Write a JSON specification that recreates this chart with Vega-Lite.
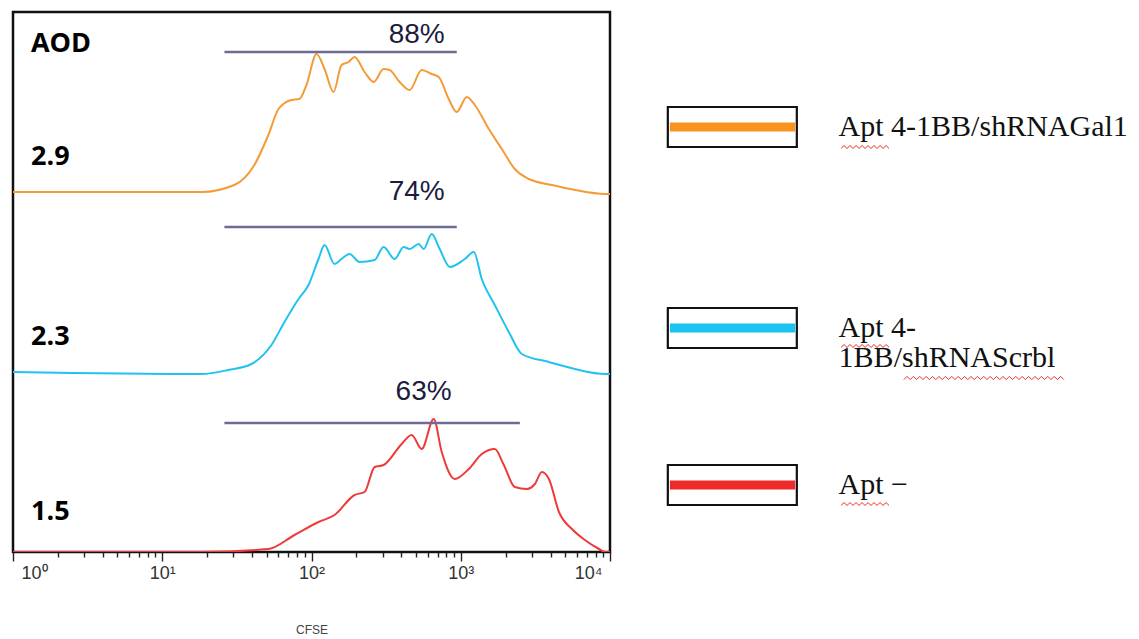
{
  "$schema": "https://vega.github.io/schema/vega-lite/v6.json",
  "padding": {"left": 11, "top": 10, "right": 0, "bottom": 0},
  "background": "white",
  "spacing": 32,
  "datasets": {
    "curves": [
      {"s": "Gal1", "x": 1, "y": 360}, {"s": "Gal1", "x": 18.3, "y": 360}, {"s": "Gal1", "x": 30.4, "y": 367}, {"s": "Gal1", "x": 41.4, "y": 387}, {"s": "Gal1", "x": 51.4, "y": 417}, {"s": "Gal1", "x": 60.1, "y": 443}, {"s": "Gal1", "x": 73.4, "y": 452}, {"s": "Gal1", "x": 83.0, "y": 453}, {"s": "Gal1", "x": 92.5, "y": 467}, {"s": "Gal1", "x": 108.1, "y": 498}, {"s": "Gal1", "x": 122.3, "y": 483}, {"s": "Gal1", "x": 140.5, "y": 460}, {"s": "Gal1", "x": 158.9, "y": 487}, {"s": "Gal1", "x": 177.1, "y": 490}, {"s": "Gal1", "x": 194.3, "y": 495}, {"s": "Gal1", "x": 226.8, "y": 480}, {"s": "Gal1", "x": 260.8, "y": 470}, {"s": "Gal1", "x": 304.1, "y": 483}, {"s": "Gal1", "x": 333.7, "y": 482}, {"s": "Gal1", "x": 389.6, "y": 470}, {"s": "Gal1", "x": 454.6, "y": 462}, {"s": "Gal1", "x": 547.3, "y": 482}, {"s": "Gal1", "x": 638.6, "y": 478}, {"s": "Gal1", "x": 711.6, "y": 475}, {"s": "Gal1", "x": 830.5, "y": 453}, {"s": "Gal1", "x": 940, "y": 440}, {"s": "Gal1", "x": 1097, "y": 455}, {"s": "Gal1", "x": 1242, "y": 447}, {"s": "Gal1", "x": 1542, "y": 423}, {"s": "Gal1", "x": 1884, "y": 403}, {"s": "Gal1", "x": 2303, "y": 383}, {"s": "Gal1", "x": 2860, "y": 373}, {"s": "Gal1", "x": 4080, "y": 367}, {"s": "Gal1", "x": 5823, "y": 362}, {"s": "Gal1", "x": 9253, "y": 358}, {"s": "Gal1", "x": 10000, "y": 358},
      {"s": "Scrbl", "x": 1, "y": 180}, {"s": "Scrbl", "x": 18.3, "y": 178}, {"s": "Scrbl", "x": 27.7, "y": 182}, {"s": "Scrbl", "x": 39.6, "y": 188}, {"s": "Scrbl", "x": 53.9, "y": 207}, {"s": "Scrbl", "x": 65.9, "y": 230}, {"s": "Scrbl", "x": 81.8, "y": 253}, {"s": "Scrbl", "x": 95.5, "y": 267}, {"s": "Scrbl", "x": 111.4, "y": 293}, {"s": "Scrbl", "x": 122.3, "y": 307}, {"s": "Scrbl", "x": 142.6, "y": 288}, {"s": "Scrbl", "x": 158.9, "y": 293}, {"s": "Scrbl", "x": 179.9, "y": 298}, {"s": "Scrbl", "x": 210, "y": 290}, {"s": "Scrbl", "x": 264.8, "y": 292}, {"s": "Scrbl", "x": 304.1, "y": 305}, {"s": "Scrbl", "x": 360.6, "y": 293}, {"s": "Scrbl", "x": 414.4, "y": 305}, {"s": "Scrbl", "x": 454.6, "y": 303}, {"s": "Scrbl", "x": 522.6, "y": 308}, {"s": "Scrbl", "x": 564.4, "y": 303}, {"s": "Scrbl", "x": 638.6, "y": 318}, {"s": "Scrbl", "x": 722.8, "y": 303}, {"s": "Scrbl", "x": 844.3, "y": 285}, {"s": "Scrbl", "x": 1064, "y": 293}, {"s": "Scrbl", "x": 1222, "y": 300}, {"s": "Scrbl", "x": 1383, "y": 273}, {"s": "Scrbl", "x": 1691, "y": 247}, {"s": "Scrbl", "x": 2099, "y": 220}, {"s": "Scrbl", "x": 2567, "y": 198}, {"s": "Scrbl", "x": 3896, "y": 190}, {"s": "Scrbl", "x": 5823, "y": 183}, {"s": "Scrbl", "x": 9253, "y": 178}, {"s": "Scrbl", "x": 10000, "y": 178},
      {"s": "Apt-", "x": 1, "y": 0}, {"s": "Apt-", "x": 18.3, "y": 0}, {"s": "Apt-", "x": 51.4, "y": 3}, {"s": "Apt-", "x": 76.9, "y": 17}, {"s": "Apt-", "x": 111.4, "y": 30}, {"s": "Apt-", "x": 142.6, "y": 37}, {"s": "Apt-", "x": 194.3, "y": 57}, {"s": "Apt-", "x": 226.8, "y": 60}, {"s": "Apt-", "x": 264.8, "y": 85}, {"s": "Apt-", "x": 304.1, "y": 87}, {"s": "Apt-", "x": 401.7, "y": 108}, {"s": "Apt-", "x": 469, "y": 117}, {"s": "Apt-", "x": 547.3, "y": 103}, {"s": "Apt-", "x": 659, "y": 133}, {"s": "Apt-", "x": 745.6, "y": 100}, {"s": "Apt-", "x": 911.8, "y": 73}, {"s": "Apt-", "x": 1132, "y": 83}, {"s": "Apt-", "x": 1383, "y": 98}, {"s": "Apt-", "x": 1691, "y": 103}, {"s": "Apt-", "x": 1944, "y": 87}, {"s": "Apt-", "x": 2303, "y": 65}, {"s": "Apt-", "x": 2773, "y": 63}, {"s": "Apt-", "x": 3138, "y": 68}, {"s": "Apt-", "x": 3497, "y": 80}, {"s": "Apt-", "x": 3896, "y": 73}, {"s": "Apt-", "x": 4549, "y": 40}, {"s": "Apt-", "x": 5559, "y": 23}, {"s": "Apt-", "x": 6792, "y": 12}, {"s": "Apt-", "x": 8439, "y": 3}, {"s": "Apt-", "x": 9253, "y": 0}, {"s": "Apt-", "x": 10000, "y": 0}
    ],
    "samples": [
      {"s": "Gal1", "gate_lo": 26.1, "gate_hi": 940, "gate_y": 500, "pct": "88%", "pct_x": 507, "pct_y": 517},
      {"s": "Scrbl", "gate_lo": 26.1, "gate_hi": 940, "gate_y": 325, "pct": "74%", "pct_x": 507, "pct_y": 360},
      {"s": "Apt-", "gate_lo": 26.1, "gate_hi": 2489, "gate_y": 129, "pct": "63%", "pct_x": 564, "pct_y": 160}
    ],
    "labels": [
      {"text": "AOD", "x": 1.32, "y": 508},
      {"text": "2.9", "x": 1.32, "y": 395},
      {"text": "2.3", "x": 1.32, "y": 215},
      {"text": "1.5", "x": 1.32, "y": 40}
    ],
    "legend": [
      {"s": "Gal1", "line1": "Apt 4-1BB/shRNAGal1", "line2": ""},
      {"s": "Scrbl", "line1": "Apt 4-", "line2": "1BB/shRNAScrbl"},
      {"s": "Apt-", "line1": "Apt −", "line2": ""}
    ]
  },
  "hconcat": [
    {
      "width": 597,
      "height": 540,
      "layer": [
        {
          "data": {"name": "curves"},
          "mark": {"type": "line", "strokeWidth": 2, "clip": true, "interpolate": "monotone"},
          "encoding": {
            "x": {
              "field": "x", "type": "quantitative",
              "scale": {"type": "log", "domain": [1, 10000], "nice": false},
              "axis": {
                "title": "CFSE",
                "values": [1,2,3,4,5,6,7,8,9,10,20,30,40,50,60,70,80,90,100,200,300,400,500,600,700,800,900,1000,2000,3000,4000,5000,6000,7000,8000,9000,10000],
                "labelExpr": "indexof([1,10,100,1000,10000], datum.value) >= 0 ? '10' + ['⁰','¹','²','³','⁴'][round(log(datum.value)/LN10)] : ''",
                "domain": false, "grid": false,
                "tickColor": "#222", "tickWidth": 1.4,
                "tickSize": {"condition": {"test": "indexof([1,10,100,1000,10000], datum.value) >= 0", "value": 9}, "value": 5},
                "labelFont": "Liberation Sans", "labelFontSize": 18, "labelColor": "#333",
                "labelPadding": 3, "labelFlush": true, "labelFlushOffset": -8, "labelOverlap": false,
                "titleFont": "Liberation Sans", "titleFontSize": 12, "titleFontWeight": "normal", "titleColor": "#444", "titlePadding": 42
              }
            },
            "y": {"field": "y", "type": "quantitative", "scale": {"domain": [0, 540], "nice": false}, "axis": null},
            "color": {"field": "s", "type": "nominal", "scale": {"domain": ["Gal1", "Scrbl", "Apt-"], "range": ["#f59a38", "#21c2ef", "#ef3a3a"]}, "legend": null}
          }
        },
        {
          "data": {"name": "samples"},
          "mark": {"type": "rule", "color": "#6b6b95", "strokeWidth": 2.5},
          "encoding": {
            "x": {"field": "gate_lo", "type": "quantitative"},
            "x2": {"field": "gate_hi"},
            "y": {"field": "gate_y", "type": "quantitative"}
          }
        },
        {
          "data": {"name": "samples"},
          "mark": {"type": "text", "font": "Liberation Sans", "fontSize": 28, "color": "#1c1c3c", "baseline": "middle"},
          "encoding": {
            "x": {"field": "pct_x", "type": "quantitative"},
            "y": {"field": "pct_y", "type": "quantitative"},
            "text": {"field": "pct"}
          }
        },
        {
          "data": {"name": "labels"},
          "mark": {"type": "text", "font": "Open Sans", "fontWeight": "bold", "fontSize": 27, "color": "#000", "align": "left", "baseline": "middle"},
          "encoding": {
            "x": {"field": "x", "type": "quantitative"},
            "y": {"field": "y", "type": "quantitative"},
            "text": {"field": "text"}
          }
        }
      ]
    },
    {
      "spacing": 0,
      "vconcat": [
        {
          "width": 499, "height": 230, "view": {"stroke": null},
          "data": {"name": "legend"},
          "transform": [{"filter": "datum.s == 'Gal1'"}],
          "encoding": {"y": {"field": "s", "type": "nominal", "axis": null}},
          "layer": [
            {"mark": {"type": "point", "shape": "M-1,-0.31H1V0.31H-1Z", "size": 16641, "filled": false, "stroke": "#111", "strokeWidth": 2.2, "opacity": 1},
             "encoding": {"x": {"datum": 17.7, "type": "quantitative", "scale": {"domain": [0, 100], "nice": false, "zero": false}, "axis": null}}},
            {"mark": {"type": "rule", "strokeWidth": 9},
             "encoding": {"x": {"datum": 5.2}, "x2": {"datum": 30.3}, "color": {"field": "s", "type": "nominal", "scale": {"domain": ["Gal1", "Scrbl", "Apt-"], "range": ["#f7931e", "#1cc3f0", "#ee2a2a"]}, "legend": null}}},
            {"mark": {"type": "text", "align": "left", "baseline": "middle", "font": "Liberation Serif", "fontSize": 30, "color": "#111"},
             "encoding": {"x": {"datum": 39.0}, "text": {"field": "line1"}}},
            {"mark": {"type": "point", "shape": "M-1,0.06L-0.875,-0.06L-0.75,0.06L-0.625,-0.06L-0.5,0.06L-0.375,-0.06L-0.25,0.06L-0.125,-0.06L0,0.06L0.125,-0.06L0.25,0.06L0.375,-0.06L0.5,0.06L0.625,-0.06L0.75,0.06L0.875,-0.06L1,0.06", "size": 2304, "filled": false, "stroke": "#e8302a", "strokeWidth": 1, "opacity": 1, "yOffset": 20},
             "encoding": {"x": {"datum": 44.3}}}
          ]
        },
        {
          "width": 499, "height": 172, "view": {"stroke": null},
          "data": {"name": "legend"},
          "transform": [{"filter": "datum.s == 'Scrbl'"}],
          "encoding": {"y": {"field": "s", "type": "nominal", "axis": null}},
          "layer": [
            {"mark": {"type": "point", "shape": "M-1,-0.31H1V0.31H-1Z", "size": 16641, "filled": false, "stroke": "#111", "strokeWidth": 2.2, "opacity": 1},
             "encoding": {"x": {"datum": 17.7, "type": "quantitative", "scale": {"domain": [0, 100], "nice": false, "zero": false}, "axis": null}}},
            {"mark": {"type": "rule", "strokeWidth": 9},
             "encoding": {"x": {"datum": 5.2}, "x2": {"datum": 30.3}, "color": {"field": "s", "type": "nominal", "scale": {"domain": ["Gal1", "Scrbl", "Apt-"], "range": ["#f7931e", "#1cc3f0", "#ee2a2a"]}, "legend": null}}},
            {"mark": {"type": "text", "align": "left", "baseline": "middle", "font": "Liberation Serif", "fontSize": 30, "color": "#111"},
             "encoding": {"x": {"datum": 39.0}, "text": {"field": "line1"}}},
            {"mark": {"type": "text", "align": "left", "baseline": "middle", "font": "Liberation Serif", "fontSize": 30, "color": "#111", "dy": 30},
             "encoding": {"x": {"datum": 39.0}, "text": {"field": "line2"}}},
            {"mark": {"type": "point", "shape": "M-1,0.06L-0.875,-0.06L-0.75,0.06L-0.625,-0.06L-0.5,0.06L-0.375,-0.06L-0.25,0.06L-0.125,-0.06L0,0.06L0.125,-0.06L0.25,0.06L0.375,-0.06L0.5,0.06L0.625,-0.06L0.75,0.06L0.875,-0.06L1,0.06", "size": 2304, "filled": false, "stroke": "#e8302a", "strokeWidth": 1, "opacity": 1, "yOffset": 18},
             "encoding": {"x": {"datum": 44.3}}},
            {"mark": {"type": "point", "shape": "M-1,0.02L-0.96,-0.02L-0.92,0.02L-0.88,-0.02L-0.84,0.02L-0.8,-0.02L-0.76,0.02L-0.72,-0.02L-0.68,0.02L-0.64,-0.02L-0.6,0.02L-0.56,-0.02L-0.52,0.02L-0.48,-0.02L-0.44,0.02L-0.4,-0.02L-0.36,0.02L-0.32,-0.02L-0.28,0.02L-0.24,-0.02L-0.2,0.02L-0.16,-0.02L-0.12,0.02L-0.08,-0.02L-0.04,0.02L0,-0.02L0.04,0.02L0.08,-0.02L0.12,0.02L0.16,-0.02L0.2,0.02L0.24,-0.02L0.28,0.02L0.32,-0.02L0.36,0.02L0.4,-0.02L0.44,0.02L0.48,-0.02L0.52,0.02L0.56,-0.02L0.6,0.02L0.64,-0.02L0.68,0.02L0.72,-0.02L0.76,0.02L0.8,-0.02L0.84,0.02L0.88,-0.02L0.92,0.02L0.96,-0.02L1,0.02", "size": 25600, "filled": false, "stroke": "#e8302a", "strokeWidth": 1, "opacity": 1, "yOffset": 50},
             "encoding": {"x": {"datum": 68.1}}}
          ]
        },
        {
          "width": 499, "height": 142, "view": {"stroke": null},
          "data": {"name": "legend"},
          "transform": [{"filter": "datum.s == 'Apt-'"}],
          "encoding": {"y": {"field": "s", "type": "nominal", "axis": null}},
          "layer": [
            {"mark": {"type": "point", "shape": "M-1,-0.31H1V0.31H-1Z", "size": 16641, "filled": false, "stroke": "#111", "strokeWidth": 2.2, "opacity": 1},
             "encoding": {"x": {"datum": 17.7, "type": "quantitative", "scale": {"domain": [0, 100], "nice": false, "zero": false}, "axis": null}}},
            {"mark": {"type": "rule", "strokeWidth": 9},
             "encoding": {"x": {"datum": 5.2}, "x2": {"datum": 30.3}, "color": {"field": "s", "type": "nominal", "scale": {"domain": ["Gal1", "Scrbl", "Apt-"], "range": ["#f7931e", "#1cc3f0", "#ee2a2a"]}, "legend": null}}},
            {"mark": {"type": "text", "align": "left", "baseline": "middle", "font": "Liberation Serif", "fontSize": 30, "color": "#111"},
             "encoding": {"x": {"datum": 39.0}, "text": {"field": "line1"}}},
            {"mark": {"type": "point", "shape": "M-1,0.06L-0.875,-0.06L-0.75,0.06L-0.625,-0.06L-0.5,0.06L-0.375,-0.06L-0.25,0.06L-0.125,-0.06L0,0.06L0.125,-0.06L0.25,0.06L0.375,-0.06L0.5,0.06L0.625,-0.06L0.75,0.06L0.875,-0.06L1,0.06", "size": 2304, "filled": false, "stroke": "#e8302a", "strokeWidth": 1, "opacity": 1, "yOffset": 19},
             "encoding": {"x": {"datum": 44.3}}}
          ]
        }
      ]
    }
  ],
  "resolve": {"scale": {"color": "independent"}},
  "config": {
    "view": {"stroke": "#111", "strokeWidth": 2.5}
  }
}
